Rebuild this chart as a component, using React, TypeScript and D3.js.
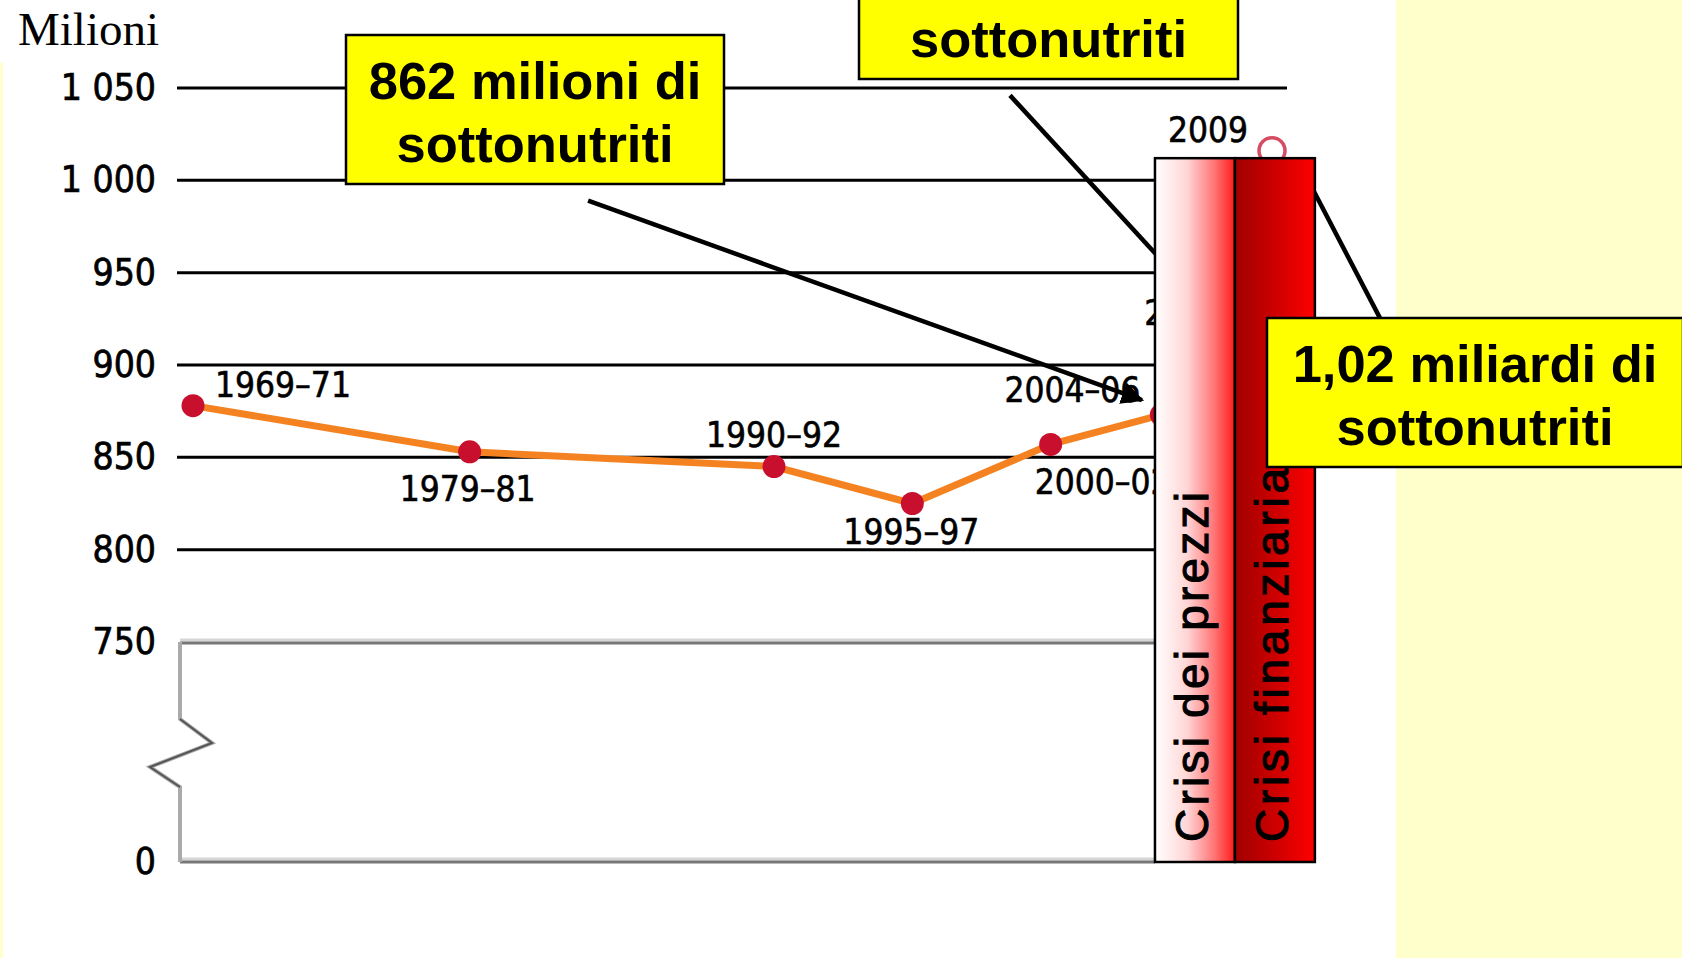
import * as d3 from 'd3';
import React, { useEffect } from 'react';

const periodLabels = ["1969–71", "1979–81", "1990–92", "1995–97", "2000–02", "2004–06", "2008", "2009"];
const midYears = [1970, 1980, 1991, 1996, 2001, 2005, 2008, 2009];
const undernourished = [878, 853, 845, 825, 857, 873, 915, 1016];

const gridTicks = [800, 850, 900, 950, 1000, 1050];
const axisTicks = [0, 750, 800, 850, 900, 950, 1000, 1050];
const tickLabels = ["0", "750", "800", "850", "900", "950", "1 000", "1 050"];

const crisisNames = ["Crisi dei prezzi", "Crisi finanziaria"];
const crisisStart = [2004.77, 2007.66];
const crisisEnd = [2007.66, 2010.55];
const crisisTop = 1012;

const calloutLines = [
  ["862 milioni di", "sottonutriti"],
  ["", "sottonutriti"],
  ["1,02 miliardi di", "sottonutriti"],
];
// pointer ends in (anno, milioni)
const pointerFrom = [[1984.28, 989], [1999.53, 1046], [2010.0, 1008.8]];
const pointerTo = [[2004.3, 881], [2006.4, 934], [2012.9, 925.5]];

const W = 1682;
const H = 958;

// layout (pixel)
const labelPlace = [
  { dx: 22, dy: -9, anchor: "start" },
  { dx: -2, dy: 49, anchor: "middle" },
  { dx: 0, dy: -20, anchor: "middle" },
  { dx: -1, dy: 40, anchor: "middle" },
  { dx: -16, dy: 50, anchor: "start" },
  { dx: -21, dy: -13, anchor: "end" },
  { dx: -100, dy: -12, anchor: "start" },
  { dx: -24, dy: -9, anchor: "end" },
];
const boxes = [
  { x: 346, y: 35, w: 378, h: 149 },
  { x: 859, y: -70, w: 379, h: 149 },
  { x: 1267, y: 318, w: 416, h: 149 },
];

const numFont = "'DejaVu Sans Condensed', 'DejaVu Sans', sans-serif";
const boxFont = "'Liberation Sans', Arial, sans-serif";

function App(): any {
  useEffect(() => {
    document.body.style.margin = "0";
  }, []);

  const x = d3.scaleLinear().domain([1970, 2009]).range([193, 1272]);
  // asse spezzato: 0 -> 750 compresso
  const y = d3.scaleLinear().domain([0, 750, 1050]).range([862, 642, 88]);

  const gridLeft = 177;
  const gridRight = 1287;
  const boxLeft = 180;

  const pts = midYears.map((yr, i) => ({ yr, v: undernourished[i], label: periodLabels[i] }));
  const solid = pts.slice(0, 7);
  const last = pts[7];

  const line = d3.line<any>()
    .x((d) => x(d.yr))
    .y((d) => y(d.v));

  const y0 = y(0);
  const y750 = y(750);
  const barRight = x(crisisStart[0]);

  return (
    <svg width={W} height={H} style={{ position: "absolute", left: 0, top: 0 }}>
      <defs>
        <linearGradient id="gPrezzi" x1="0" x2="1" y1="0" y2="0">
          <stop offset="0" stopColor="#ffffff" />
          <stop offset="0.4" stopColor="#ffd6d6" />
          <stop offset="0.75" stopColor="#ff7272" />
          <stop offset="1" stopColor="#ff1a1a" />
        </linearGradient>
        <linearGradient id="gFin" x1="0" x2="1" y1="0" y2="0">
          <stop offset="0" stopColor="#a00000" />
          <stop offset="0.5" stopColor="#cc0000" />
          <stop offset="1" stopColor="#ff0000" />
        </linearGradient>
        <marker id="arrow" viewBox="0 0 10 10" refX="9" refY="5" markerWidth="5" markerHeight="5" orient="auto">
          <path d="M0,0 L10,5 L0,10 z" fill="#000" />
        </marker>
      </defs>

      <rect x={0} y={0} width={W} height={H} fill="#ffffff" />
      <rect x={1396} y={0} width={W - 1396} height={H} fill="#ffffcc" />
      <rect x={0} y={63} width={3} height={H - 63} fill="#ffffcc" />

      <text x={18} y={45} fontFamily="'Liberation Serif', 'Times New Roman', serif" fontSize={47} fill="#000">Milioni</text>

      {/* griglia */}
      {gridTicks.map((t) => (
        <line key={t} x1={gridLeft} x2={gridRight} y1={y(t)} y2={y(t)} stroke="#000" strokeWidth={3} />
      ))}

      {/* etichette asse */}
      {axisTicks.map((t, i) => (
        <text key={t} x={156} y={y(t) + 12} textAnchor="end" fontFamily={numFont} fontSize={37}
          fill="#000" stroke="#000" strokeWidth={0.7}>
          {tickLabels[i]}
        </text>
      ))}

      {/* riquadro asse spezzato */}
      <line x1={boxLeft} x2={barRight} y1={y750 - 2} y2={y750 - 2} stroke="#d6d6d6" strokeWidth={3} />
      <line x1={boxLeft} x2={barRight} y1={y750 + 1} y2={y750 + 1} stroke="#777" strokeWidth={3} />
      <line x1={boxLeft} x2={barRight} y1={y0 - 3} y2={y0 - 3} stroke="#d6d6d6" strokeWidth={3} />
      <line x1={boxLeft} x2={barRight} y1={y0} y2={y0} stroke="#777" strokeWidth={3} />
      <path
        d={`M${boxLeft},${y750} L${boxLeft},${y750 + 77} L${boxLeft + 32},${y750 + 101} L${boxLeft - 30},${y750 + 125} L${boxLeft},${y750 + 145} L${boxLeft},${y0}`}
        fill="none" stroke="#aaa" strokeWidth={4} strokeLinejoin="miter"
      />
      <path
        d={`M${boxLeft},${y750 + 77} L${boxLeft + 32},${y750 + 101} L${boxLeft - 30},${y750 + 125} L${boxLeft},${y750 + 145}`}
        fill="none" stroke="#555" strokeWidth={2}
      />

      {/* frecce dei riquadri */}
      {pointerFrom.map((p, i) => (
        <line
          key={i}
          x1={x(p[0])} y1={y(p[1])} x2={x(pointerTo[i][0])} y2={y(pointerTo[i][1])}
          stroke="#000" strokeWidth={4.5}
          markerEnd={i === 0 ? "url(#arrow)" : undefined}
        />
      ))}

      {/* serie */}
      <path d={line(solid) || ""} fill="none" stroke="#f58220" strokeWidth={7} />
      {solid.map((d) => (
        <circle key={d.label} cx={x(d.yr)} cy={y(d.v)} r={11.5} fill="#c8102e" />
      ))}
      <circle cx={x(last.yr)} cy={y(last.v)} r={13} fill="none" stroke="#c8102e" strokeOpacity={0.75} strokeWidth={3.5} />

      {pts.map((d, i) => (
        <text
          key={d.label}
          x={x(d.yr) + labelPlace[i].dx}
          y={y(d.v) + labelPlace[i].dy}
          textAnchor={labelPlace[i].anchor}
          fontFamily={numFont}
          fontSize={35}
          fill="#000"
          stroke="#000"
          strokeWidth={0.6}
        >
          {d.label}
        </text>
      ))}

      {/* barre delle crisi */}
      {crisisNames.map((name, i) => {
        const x0 = x(crisisStart[i]);
        const x1 = x(crisisEnd[i]);
        const yt = y(crisisTop);
        const cx = (x0 + x1) / 2 + 13;
        const ty = y0 - 20;
        return (
          <g key={name}>
            <rect x={x0} y={yt} width={x1 - x0} height={y0 - yt} fill={i === 0 ? "url(#gPrezzi)" : "url(#gFin)"} stroke="#000" strokeWidth={2.5} />
            <text
              transform={`translate(${cx},${ty}) rotate(-90)`}
              fontFamily={boxFont}
              fontSize={46}
              textLength={i === 0 ? 350 : 374}
              lengthAdjust="spacing"
              fill="#000"
              stroke="#000"
              strokeWidth={1.1}
            >
              {name}
            </text>
          </g>
        );
      })}

      {/* riquadri gialli */}
      {boxes.map((b, i) => (
        <g key={i}>
          <rect x={b.x} y={b.y} width={b.w} height={b.h} fill="#ffff00" stroke="#000" strokeWidth={2.5} />
          {calloutLines[i].map((t, j) => (
            <text
              key={j}
              x={b.x + b.w / 2}
              y={b.y + 64 + j * 63}
              textAnchor="middle"
              fontFamily={boxFont}
              fontWeight="bold"
              fontSize={52.5}
              fill="#000"
            >
              {t}
            </text>
          ))}
        </g>
      ))}
    </svg>
  );
}

export default App;
